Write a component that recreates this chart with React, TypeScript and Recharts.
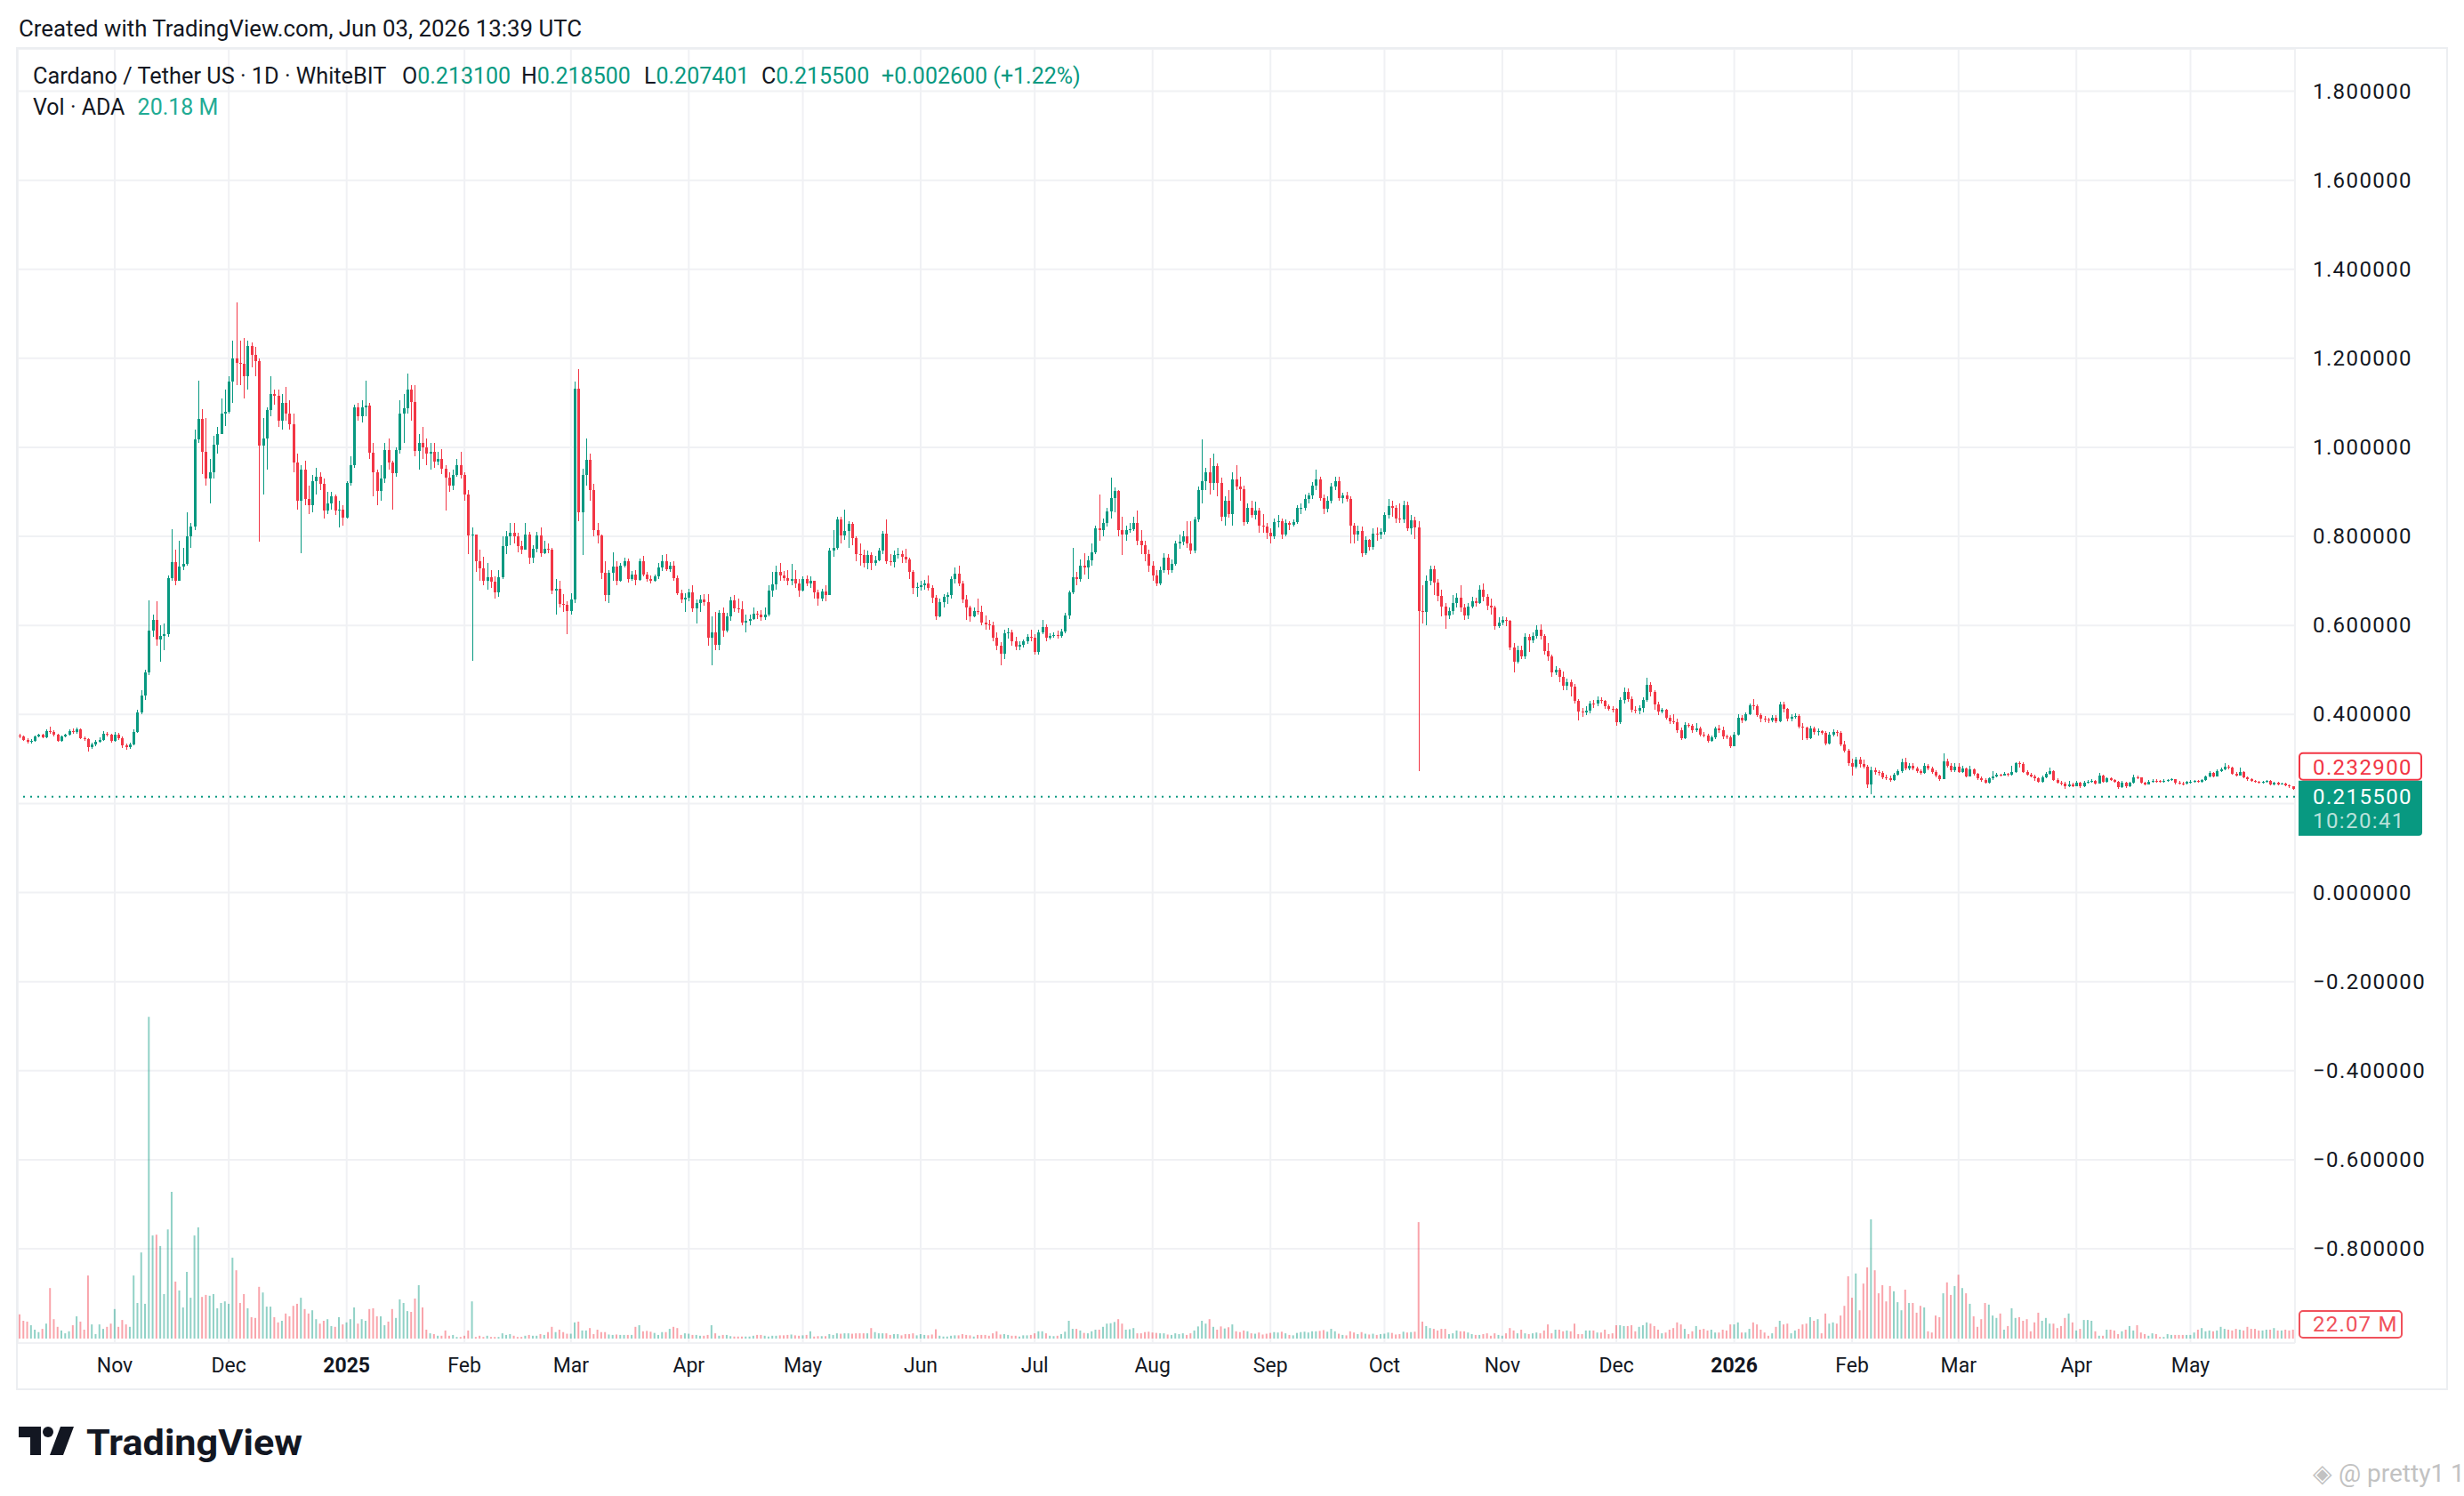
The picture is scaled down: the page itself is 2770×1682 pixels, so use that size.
import React from "react";
import {
  ComposedChart,
  Bar,
  XAxis,
  YAxis,
  CartesianGrid,
  ReferenceLine,
  Cell,
} from "recharts";

// each row: close, high, low, volume (millions ADA) - one row per day
type Row = [number, number, number, number];

const oct24: Row[] = [
  [0.350,0.356,0.346,60],[0.343,0.352,0.340,44],[0.339,0.346,0.335,42],[0.340,0.344,0.334,33],[0.350,0.353,0.338,22],
  [0.354,0.357,0.348,16],[0.348,0.356,0.346,24],[0.362,0.366,0.346,37],[0.361,0.372,0.356,125],[0.354,0.364,0.351,48],
  [0.341,0.356,0.338,29],[0.350,0.352,0.339,20],[0.354,0.356,0.348,13],[0.362,0.366,0.352,18],[0.360,0.368,0.356,33],
  [0.366,0.370,0.357,55],[0.347,0.368,0.344,42],[0.345,0.350,0.340,22],[0.326,0.347,0.316,156],[0.332,0.336,0.322,35],
  [0.339,0.342,0.329,11],[0.343,0.348,0.336,35],[0.357,0.362,0.341,24],[0.354,0.360,0.350,29],[0.340,0.357,0.336,37],
];
const nov24: Row[] = [
  [0.355,0.360,0.338,73],[0.347,0.358,0.343,29],[0.330,0.350,0.325,46],[0.326,0.334,0.320,35],[0.333,0.337,0.322,29],
  [0.360,0.366,0.330,156],[0.405,0.410,0.358,88],[0.443,0.455,0.400,213],[0.495,0.500,0.432,86],[0.589,0.657,0.488,796],
  [0.612,0.625,0.575,255],[0.568,0.655,0.555,257],[0.577,0.600,0.519,229],[0.580,0.605,0.545,110],[0.706,0.712,0.575,270],
  [0.742,0.817,0.700,363],[0.700,0.770,0.690,141],[0.732,0.790,0.700,119],[0.738,0.775,0.725,77],[0.800,0.855,0.735,165],
  [0.822,0.830,0.775,101],[1.018,1.040,0.815,255],[1.064,1.150,1.010,275],[0.990,1.085,0.940,103],[0.930,1.065,0.915,108],
  [0.945,0.975,0.875,106],[1.005,1.025,0.930,110],[1.030,1.045,0.985,75],[1.076,1.110,1.030,88],[1.080,1.130,1.048,92],
];
const dec24: Row[] = [
  [1.148,1.160,1.075,86],[1.200,1.240,1.100,200],[1.190,1.325,1.140,169],[1.188,1.240,1.140,88],[1.159,1.245,1.110,110],
  [1.228,1.240,1.130,75],[1.208,1.235,1.180,53],[1.193,1.225,1.160,51],[1.004,1.200,0.788,128],[1.020,1.065,0.895,114],
  [1.084,1.090,0.950,79],[1.120,1.160,1.070,79],[1.115,1.130,1.095,53],[1.060,1.130,1.045,40],[1.100,1.120,1.040,44],
  [1.076,1.135,1.060,62],[1.052,1.105,1.040,55],[0.967,1.075,0.945,81],[0.880,0.985,0.860,86],[0.950,0.960,0.763,101],
  [0.884,0.970,0.870,73],[0.870,0.915,0.850,62],[0.925,0.938,0.855,70],[0.935,0.955,0.895,48],[0.918,0.945,0.905,37],
  [0.858,0.930,0.840,44],[0.875,0.900,0.850,48],[0.890,0.900,0.860,31],[0.858,0.895,0.848,29],[0.860,0.880,0.820,53],
  [0.842,0.870,0.825,35],
];
const jan25: Row[] = [
  [0.920,0.925,0.840,40],[0.960,0.980,0.915,48],[1.090,1.095,0.955,77],[1.070,1.100,1.060,37],[1.090,1.105,1.055,48],
  [1.093,1.150,1.070,44],[0.988,1.100,0.975,73],[0.944,1.010,0.890,75],[0.903,0.950,0.870,55],[0.930,0.960,0.880,55],
  [0.994,1.010,0.920,33],[0.966,1.020,0.950,42],[0.942,0.970,0.860,73],[0.994,1.000,0.935,51],[1.075,1.105,0.985,97],
  [1.087,1.120,1.010,88],[1.130,1.165,1.075,68],[1.102,1.140,1.060,66],[0.992,1.140,0.980,99],[1.009,1.030,0.950,132],
  [1.000,1.045,0.975,77],[0.985,1.020,0.960,22],[0.990,1.010,0.950,13],[0.968,1.010,0.955,11],[0.975,0.990,0.960,7],
  [0.952,0.995,0.940,7],[0.932,0.960,0.859,20],[0.915,0.945,0.900,7],[0.939,0.950,0.905,9],[0.960,0.975,0.935,4],
  [0.939,0.990,0.930,4],
];
const feb25: Row[] = [
  [0.895,0.945,0.880,7],[0.802,0.905,0.760,20],[0.804,0.820,0.520,92],[0.744,0.805,0.720,4],[0.729,0.770,0.700,7],
  [0.700,0.755,0.690,4],[0.709,0.740,0.680,7],[0.699,0.725,0.685,4],[0.675,0.710,0.660,4],[0.709,0.725,0.665,4],
  [0.779,0.800,0.705,13],[0.800,0.812,0.760,9],[0.809,0.830,0.780,11],[0.800,0.830,0.785,7],[0.779,0.808,0.765,4],
  [0.771,0.790,0.760,4],[0.805,0.830,0.770,7],[0.752,0.810,0.738,9],[0.773,0.780,0.740,7],[0.803,0.810,0.765,7],
  [0.762,0.820,0.755,11],[0.772,0.790,0.760,9],[0.771,0.785,0.762,16],[0.679,0.775,0.670,29],[0.682,0.705,0.625,16],
  [0.649,0.700,0.640,22],[0.647,0.670,0.630,16],[0.632,0.655,0.580,12],
];
const mar25: Row[] = [
  [0.659,0.672,0.625,12],[1.132,1.147,0.650,40],[0.855,1.175,0.835,42],[0.939,0.953,0.759,20],[0.973,1.020,0.915,20],
  [0.904,0.985,0.880,26],[0.815,0.918,0.800,11],[0.802,0.830,0.785,22],[0.719,0.805,0.705,16],[0.669,0.745,0.655,16],
  [0.719,0.725,0.650,10],[0.733,0.765,0.700,9],[0.700,0.745,0.690,10],[0.735,0.740,0.698,9],[0.745,0.752,0.730,9],
  [0.704,0.750,0.697,9],[0.715,0.722,0.700,9],[0.702,0.725,0.690,29],[0.744,0.750,0.700,33],[0.715,0.757,0.710,18],
  [0.704,0.720,0.698,19],[0.700,0.712,0.695,17],[0.711,0.715,0.698,14],[0.731,0.740,0.705,9],[0.744,0.758,0.722,16],
  [0.727,0.760,0.722,16],[0.735,0.742,0.720,24],[0.707,0.745,0.700,29],[0.673,0.712,0.668,26],[0.659,0.680,0.650,9],
  [0.662,0.672,0.630,13],
];
const apr25: Row[] = [
  [0.675,0.682,0.655,12],[0.639,0.690,0.630,9],[0.650,0.658,0.605,9],[0.659,0.668,0.630,7],[0.652,0.670,0.645,7],
  [0.573,0.670,0.555,9],[0.585,0.620,0.511,33],[0.557,0.630,0.545,13],[0.629,0.635,0.545,7],[0.589,0.640,0.575,9],
  [0.620,0.628,0.585,9],[0.657,0.665,0.610,6],[0.639,0.668,0.630,5],[0.637,0.660,0.628,5],[0.607,0.655,0.600,5],
  [0.611,0.625,0.585,5],[0.614,0.625,0.600,5],[0.627,0.640,0.612,7],[0.625,0.632,0.615,9],[0.619,0.635,0.610,9],
  [0.625,0.640,0.612,7],[0.679,0.690,0.620,5],[0.692,0.720,0.665,7],[0.720,0.735,0.680,7],[0.712,0.740,0.700,8],
  [0.707,0.722,0.700,8],[0.700,0.725,0.690,9],[0.705,0.738,0.690,10],[0.695,0.725,0.685,8],[0.679,0.705,0.665,7],
];
const may25: Row[] = [
  [0.704,0.710,0.676,8],[0.695,0.712,0.688,9],[0.700,0.710,0.684,18],[0.674,0.700,0.660,5],[0.660,0.680,0.645,6],
  [0.677,0.682,0.655,6],[0.669,0.690,0.655,6],[0.769,0.775,0.668,11],[0.775,0.815,0.755,9],[0.839,0.845,0.770,13],
  [0.802,0.845,0.785,12],[0.813,0.860,0.792,13],[0.829,0.835,0.775,13],[0.797,0.832,0.780,12],[0.760,0.800,0.745,13],
  [0.758,0.785,0.735,13],[0.740,0.770,0.730,13],[0.759,0.768,0.727,13],[0.740,0.765,0.725,26],[0.747,0.757,0.735,16],
  [0.769,0.775,0.745,13],[0.807,0.812,0.760,13],[0.745,0.839,0.738,13],[0.742,0.760,0.735,9],[0.759,0.768,0.730,11],
  [0.760,0.775,0.750,11],[0.755,0.768,0.740,8],[0.749,0.772,0.740,11],[0.720,0.752,0.705,11],[0.685,0.725,0.670,13],
  [0.687,0.696,0.665,8],
];
const jun25: Row[] = [
  [0.690,0.700,0.678,11],[0.694,0.702,0.680,9],[0.685,0.712,0.678,8],[0.662,0.690,0.650,10],[0.620,0.668,0.612,23],
  [0.653,0.660,0.618,7],[0.664,0.670,0.640,5],[0.669,0.675,0.648,5],[0.705,0.710,0.660,7],[0.717,0.730,0.695,8],
  [0.695,0.735,0.688,8],[0.659,0.700,0.650,11],[0.640,0.668,0.612,9],[0.620,0.645,0.608,8],[0.632,0.640,0.618,5],
  [0.631,0.660,0.625,9],[0.607,0.645,0.600,9],[0.602,0.622,0.590,9],[0.600,0.612,0.590,7],[0.573,0.608,0.565,13],
  [0.555,0.585,0.545,18],[0.537,0.562,0.511,10],[0.582,0.590,0.525,11],[0.585,0.595,0.570,9],[0.564,0.590,0.555,7],
  [0.552,0.575,0.545,7],[0.557,0.565,0.545,5],[0.564,0.568,0.550,8],[0.575,0.580,0.558,8],[0.572,0.590,0.565,9],
];
const jul25: Row[] = [
  [0.540,0.580,0.535,13],[0.584,0.590,0.535,18],[0.597,0.612,0.580,18],[0.573,0.602,0.565,13],[0.577,0.582,0.568,7],
  [0.579,0.585,0.572,6],[0.576,0.588,0.570,7],[0.587,0.592,0.572,11],[0.622,0.628,0.583,17],[0.675,0.678,0.615,44],
  [0.709,0.775,0.670,24],[0.705,0.720,0.690,24],[0.735,0.748,0.698,20],[0.730,0.762,0.715,14],[0.747,0.757,0.705,13],
  [0.764,0.785,0.735,18],[0.819,0.825,0.760,22],[0.815,0.895,0.790,22],[0.831,0.840,0.800,29],[0.857,0.865,0.822,37],
  [0.887,0.933,0.840,38],[0.902,0.910,0.855,41],[0.815,0.905,0.800,48],[0.805,0.845,0.758,37],[0.815,0.825,0.790,22],
  [0.817,0.830,0.808,23],[0.831,0.845,0.812,26],[0.791,0.858,0.780,13],[0.780,0.815,0.760,13],[0.760,0.790,0.745,16],
  [0.735,0.770,0.720,17],
];
const aug25: Row[] = [
  [0.712,0.745,0.700,15],[0.695,0.725,0.688,14],[0.725,0.732,0.690,13],[0.753,0.762,0.718,13],[0.725,0.760,0.715,10],
  [0.739,0.748,0.718,9],[0.785,0.790,0.735,13],[0.789,0.805,0.772,11],[0.800,0.812,0.780,13],[0.785,0.835,0.775,9],
  [0.769,0.835,0.760,13],[0.839,0.845,0.762,20],[0.904,0.912,0.832,30],[0.925,1.017,0.875,44],[0.944,0.955,0.905,37],
  [0.920,0.977,0.895,48],[0.959,0.985,0.905,29],[0.920,0.965,0.890,22],[0.844,0.933,0.835,30],[0.880,0.890,0.825,25],
  [0.851,0.905,0.843,28],[0.929,0.945,0.825,35],[0.913,0.960,0.905,18],[0.907,0.935,0.880,16],[0.832,0.915,0.825,20],
  [0.865,0.875,0.828,18],[0.849,0.880,0.842,13],[0.859,0.878,0.838,12],[0.825,0.865,0.808,15],[0.822,0.850,0.808,10],
  [0.809,0.830,0.795,12],
];
const sep25: Row[] = [
  [0.800,0.818,0.785,14],[0.833,0.840,0.795,16],[0.835,0.848,0.820,15],[0.805,0.840,0.795,17],[0.831,0.838,0.800,13],
  [0.827,0.835,0.815,9],[0.833,0.838,0.822,8],[0.864,0.870,0.828,14],[0.865,0.875,0.850,16],[0.884,0.895,0.858,17],
  [0.892,0.898,0.875,15],[0.915,0.922,0.885,18],[0.929,0.950,0.905,18],[0.887,0.935,0.880,19],[0.862,0.895,0.850,21],
  [0.880,0.890,0.855,17],[0.913,0.920,0.875,24],[0.924,0.935,0.905,18],[0.887,0.935,0.880,12],[0.892,0.898,0.875,9],
  [0.884,0.900,0.878,8],[0.825,0.890,0.785,18],[0.805,0.830,0.785,15],[0.812,0.825,0.790,11],[0.762,0.822,0.755,16],
  [0.792,0.800,0.758,12],[0.777,0.795,0.768,10],[0.807,0.818,0.770,12],[0.805,0.820,0.790,9],[0.810,0.818,0.795,11],
];
const oct25: Row[] = [
  [0.849,0.855,0.805,12],[0.869,0.885,0.840,15],[0.865,0.880,0.845,14],[0.840,0.870,0.830,10],[0.838,0.875,0.830,11],
  [0.871,0.880,0.830,17],[0.819,0.878,0.812,15],[0.837,0.848,0.805,16],[0.820,0.845,0.795,17],[0.633,0.835,0.272,288],
  [0.630,0.690,0.605,42],[0.700,0.712,0.600,31],[0.727,0.735,0.690,26],[0.697,0.735,0.668,24],[0.667,0.705,0.655,20],
  [0.642,0.680,0.620,24],[0.622,0.650,0.592,24],[0.633,0.640,0.615,11],[0.651,0.668,0.625,13],[0.662,0.672,0.640,20],
  [0.640,0.690,0.630,18],[0.622,0.648,0.612,18],[0.642,0.650,0.615,15],[0.655,0.665,0.638,11],[0.650,0.662,0.642,9],
  [0.680,0.690,0.648,9],[0.664,0.695,0.655,11],[0.645,0.670,0.635,13],[0.640,0.660,0.625,7],[0.599,0.645,0.590,13],
  [0.607,0.618,0.595,9],
];
const nov25: Row[] = [
  [0.613,0.620,0.600,7],[0.611,0.618,0.598,13],[0.551,0.613,0.545,26],[0.519,0.560,0.495,20],[0.544,0.555,0.515,13],
  [0.531,0.555,0.525,22],[0.575,0.582,0.525,13],[0.567,0.580,0.540,11],[0.577,0.585,0.560,13],[0.591,0.600,0.570,15],
  [0.577,0.602,0.568,13],[0.542,0.580,0.535,20],[0.531,0.560,0.520,35],[0.495,0.535,0.485,13],[0.500,0.508,0.488,22],
  [0.484,0.505,0.472,22],[0.464,0.497,0.455,18],[0.473,0.480,0.455,20],[0.462,0.478,0.440,18],[0.431,0.468,0.425,37],
  [0.407,0.435,0.387,11],[0.405,0.415,0.395,11],[0.409,0.418,0.398,20],[0.425,0.430,0.402,20],[0.424,0.433,0.415,20],
  [0.433,0.440,0.418,15],[0.430,0.438,0.425,15],[0.419,0.432,0.412,22],[0.413,0.422,0.408,11],[0.412,0.418,0.405,13],
];
const dec25: Row[] = [
  [0.382,0.415,0.375,33],[0.432,0.438,0.378,33],[0.451,0.460,0.425,31],[0.435,0.458,0.428,31],[0.411,0.440,0.405,33],
  [0.409,0.418,0.402,18],[0.415,0.420,0.400,29],[0.432,0.438,0.405,33],[0.467,0.483,0.428,40],[0.451,0.472,0.440,37],
  [0.422,0.455,0.410,31],[0.407,0.428,0.398,22],[0.411,0.415,0.403,13],[0.393,0.412,0.388,15],[0.385,0.398,0.378,22],
  [0.383,0.400,0.378,26],[0.364,0.390,0.358,40],[0.347,0.370,0.343,35],[0.377,0.382,0.345,24],[0.375,0.380,0.370,11],
  [0.364,0.378,0.358,18],[0.369,0.380,0.360,31],[0.355,0.372,0.350,22],[0.353,0.360,0.348,24],[0.340,0.356,0.336,20],
  [0.349,0.352,0.338,22],[0.369,0.372,0.345,15],[0.365,0.377,0.358,15],[0.351,0.372,0.345,22],[0.349,0.355,0.345,20],
  [0.329,0.352,0.325,35],
];
const jan26: Row[] = [
  [0.355,0.360,0.328,35],[0.393,0.400,0.352,40],[0.387,0.398,0.380,15],[0.400,0.405,0.385,15],[0.420,0.425,0.398,24],
  [0.419,0.435,0.410,40],[0.399,0.422,0.395,35],[0.390,0.402,0.383,22],[0.388,0.396,0.382,15],[0.386,0.392,0.380,7],
  [0.393,0.398,0.383,13],[0.385,0.398,0.380,29],[0.422,0.428,0.383,44],[0.412,0.428,0.405,35],[0.391,0.415,0.385,37],
  [0.395,0.400,0.385,13],[0.397,0.402,0.390,20],[0.373,0.400,0.368,24],[0.370,0.380,0.342,35],[0.347,0.372,0.342,37],
  [0.369,0.375,0.345,53],[0.360,0.372,0.355,44],[0.362,0.368,0.352,48],[0.359,0.365,0.354,13],[0.335,0.362,0.330,62],
  [0.355,0.360,0.332,37],[0.360,0.366,0.350,40],[0.359,0.365,0.350,37],[0.333,0.362,0.328,57],[0.319,0.340,0.315,81],
  [0.291,0.322,0.285,154],
];
const feb26: Row[] = [
  [0.282,0.300,0.262,101],[0.299,0.305,0.278,161],[0.289,0.305,0.280,70],[0.282,0.298,0.278,136],[0.242,0.287,0.235,176],
  [0.275,0.282,0.220,295],[0.271,0.280,0.265,169],[0.269,0.275,0.262,112],[0.259,0.272,0.255,132],[0.257,0.265,0.252,92],
  [0.253,0.262,0.248,130],[0.265,0.268,0.250,117],[0.272,0.276,0.262,90],[0.293,0.300,0.268,70],[0.279,0.302,0.275,121],
  [0.285,0.290,0.274,88],[0.279,0.290,0.275,88],[0.272,0.282,0.268,64],[0.269,0.276,0.265,81],[0.284,0.290,0.266,77],
  [0.279,0.288,0.275,18],[0.271,0.283,0.266,15],[0.262,0.275,0.258,57],[0.255,0.265,0.250,53],[0.295,0.313,0.254,112],
  [0.285,0.300,0.280,139],[0.274,0.290,0.270,108],[0.283,0.290,0.270,130],
];
const mar26: Row[] = [
  [0.271,0.290,0.268,158],[0.278,0.284,0.268,125],[0.261,0.280,0.258,112],[0.276,0.284,0.260,86],[0.266,0.278,0.262,55],
  [0.256,0.268,0.252,29],[0.253,0.260,0.249,48],[0.247,0.256,0.244,88],[0.256,0.258,0.245,84],[0.261,0.272,0.252,57],
  [0.265,0.268,0.258,51],[0.263,0.267,0.260,62],[0.266,0.270,0.262,22],[0.265,0.268,0.260,31],[0.271,0.285,0.262,75],
  [0.291,0.293,0.268,51],[0.289,0.295,0.280,53],[0.271,0.292,0.268,44],[0.265,0.274,0.262,48],[0.261,0.268,0.258,18],
  [0.256,0.264,0.250,40],[0.249,0.258,0.246,64],[0.259,0.262,0.246,44],[0.267,0.270,0.256,51],[0.273,0.280,0.265,37],
  [0.253,0.274,0.250,37],[0.247,0.256,0.244,26],[0.245,0.250,0.240,31],[0.238,0.248,0.232,51],[0.243,0.250,0.237,62],
  [0.239,0.247,0.236,40],
];
const apr26: Row[] = [
  [0.247,0.250,0.238,20],[0.238,0.249,0.235,24],[0.247,0.250,0.236,46],[0.249,0.253,0.244,46],[0.251,0.254,0.246,44],
  [0.245,0.253,0.242,18],[0.263,0.268,0.244,7],[0.249,0.264,0.246,7],[0.256,0.259,0.247,22],[0.253,0.258,0.250,22],
  [0.249,0.255,0.246,20],[0.236,0.250,0.233,11],[0.247,0.250,0.235,18],[0.238,0.248,0.235,22],[0.246,0.249,0.236,31],
  [0.259,0.265,0.244,20],[0.258,0.262,0.254,33],[0.247,0.259,0.244,15],[0.243,0.249,0.240,11],[0.249,0.252,0.242,7],
  [0.251,0.254,0.246,13],[0.250,0.254,0.247,11],[0.249,0.253,0.246,4],[0.251,0.254,0.247,4],[0.253,0.255,0.249,11],
  [0.254,0.256,0.250,9],[0.246,0.255,0.243,9],[0.245,0.250,0.242,9],[0.244,0.248,0.241,9],[0.248,0.250,0.243,9],
];
const may26: Row[] = [
  [0.249,0.252,0.245,9],[0.251,0.253,0.247,15],[0.249,0.253,0.246,22],[0.253,0.255,0.247,26],[0.261,0.263,0.251,18],
  [0.269,0.272,0.259,20],[0.261,0.270,0.258,18],[0.273,0.276,0.260,20],[0.276,0.280,0.270,29],[0.283,0.290,0.274,24],
  [0.281,0.287,0.277,22],[0.267,0.283,0.265,20],[0.263,0.270,0.260,24],[0.271,0.281,0.262,22],[0.259,0.273,0.256,20],
  [0.254,0.260,0.251,29],[0.251,0.256,0.248,24],[0.249,0.253,0.246,24],[0.247,0.251,0.244,20],[0.249,0.251,0.245,20],
  [0.251,0.253,0.247,22],[0.243,0.252,0.241,22],[0.247,0.249,0.241,26],[0.243,0.248,0.241,20],[0.245,0.247,0.242,20],
  [0.241,0.246,0.239,22],[0.238,0.242,0.235,20],[0.2329,0.239,0.230,22.07],
];

const months = [
  { y: 2024, m: 10, from: 7, rows: oct24 },
  { y: 2024, m: 11, from: 1, rows: nov24 },
  { y: 2024, m: 12, from: 1, rows: dec24 },
  { y: 2025, m: 1, from: 1, rows: jan25 },
  { y: 2025, m: 2, from: 1, rows: feb25 },
  { y: 2025, m: 3, from: 1, rows: mar25 },
  { y: 2025, m: 4, from: 1, rows: apr25 },
  { y: 2025, m: 5, from: 1, rows: may25 },
  { y: 2025, m: 6, from: 1, rows: jun25 },
  { y: 2025, m: 7, from: 1, rows: jul25 },
  { y: 2025, m: 8, from: 1, rows: aug25 },
  { y: 2025, m: 9, from: 1, rows: sep25 },
  { y: 2025, m: 10, from: 1, rows: oct25 },
  { y: 2025, m: 11, from: 1, rows: nov25 },
  { y: 2025, m: 12, from: 1, rows: dec25 },
  { y: 2026, m: 1, from: 1, rows: jan26 },
  { y: 2026, m: 2, from: 1, rows: feb26 },
  { y: 2026, m: 3, from: 1, rows: mar26 },
  { y: 2026, m: 4, from: 1, rows: apr26 },
  { y: 2026, m: 5, from: 1, rows: may26 },
];

const firstOpen = 0.352;
const priceTicks = [-0.8, -0.6, -0.4, -0.2, 0, 0.2, 0.4, 0.6, 0.8, 1.0, 1.2, 1.4, 1.6, 1.8];
const monthNames = ["Jan", "Feb", "Mar", "Apr", "May", "Jun", "Jul", "Aug", "Sep", "Oct", "Nov", "Dec"];

const lastPrice = 0.2155;
const countdown = "10:20:41";

const UP = "#089981";
const DOWN = "#f23645";
const FONT = "Roboto, 'Noto Sans', sans-serif";

const pad = (n: number) => String(n).padStart(2, "0");

const data: any[] = [];
let prevClose = firstOpen;
months.forEach(({ y, m, from, rows }) => {
  rows.forEach(([c, h, l, v], i) => {
    const o = prevClose;
    const high = Math.max(h, o, c);
    const low = Math.min(l, o, c);
    data.push({
      date: `${y}-${pad(m)}-${pad(from + i)}`,
      open: o,
      close: c,
      high,
      low,
      range: [low, high],
      vol: v,
      up: c >= o,
    });
    prevClose = c;
  });
});

const monthTicks = months.filter((mm) => mm.from === 1).map((mm) => `${mm.y}-${pad(mm.m)}-01`);
const last = data[data.length - 1];

const Candle = (props: any) => {
  const { x, y, width, height, payload } = props;
  if (!payload || x == null) return null;
  const top = Math.min(y, y + height);
  const h = Math.abs(height);
  const span = payload.high - payload.low;
  const k = span > 0 ? h / span : 0;
  const bt = top + (payload.high - Math.max(payload.open, payload.close)) * k;
  const bb = top + (payload.high - Math.min(payload.open, payload.close)) * k;
  const color = payload.up ? UP : DOWN;
  const cx = x + width / 2;
  return (
    <g shapeRendering="crispEdges">
      <rect x={cx - 0.5} y={top} width={1} height={Math.max(h, 1)} fill={color} />
      <rect x={x} y={bt} width={width} height={Math.max(bb - bt, 1)} fill={color} />
    </g>
  );
};

const MonthTick = ({ x, y, payload }: any) => {
  const [yy, mm] = String(payload.value).split("-").map(Number);
  const isYear = mm === 1;
  return (
    <text
      x={x}
      y={y + 25}
      textAnchor="middle"
      dominantBaseline="central"
      fontSize={23}
      fontWeight={isYear ? 700 : 400}
      fill="#131722"
      fontFamily={FONT}
    >
      {isYear ? yy : monthNames[mm - 1]}
    </text>
  );
};

const PriceTick = ({ x, y, payload }: any) => {
  const v = payload.value;
  if (Math.abs(v - 0.2) < 1e-6) return null; // hidden behind the price tags
  const s = (v < -1e-9 ? "\u2212" : "") + Math.abs(v).toFixed(6);
  return (
    <text x={x + 20} y={y} dominantBaseline="central" fontSize={24} letterSpacing={1.4} fill="#131722" fontFamily={FONT}>
      {s}
    </text>
  );
};

const PriceTags = ({ viewBox }: any) => {
  if (!viewBox) return null;
  const bx = viewBox.x + viewBox.width + 4;
  const ly = viewBox.y;
  const w = 139;
  return (
    <g fontFamily={FONT} fontSize={24} letterSpacing={1.4}>
      <rect x={bx + 1} y={ly - 49} width={w - 2} height={30} rx={4} fill="#fff" stroke={DOWN} strokeWidth={2} />
      <text x={bx + 16} y={ly - 33} dominantBaseline="central" fill={DOWN}>
        {last.close.toFixed(6)}
      </text>
      <path
        d={`M${bx} ${ly - 18} H${bx + w} V${ly + 40} Q${bx + w} ${ly + 44} ${bx + w - 4} ${ly + 44} H${bx} Z`}
        fill={UP}
      />
      <text x={bx + 16} y={ly} dominantBaseline="central" fill="#fff">
        {lastPrice.toFixed(6)}
      </text>
      <text x={bx + 16} y={ly + 27} dominantBaseline="central" fill="rgba(255,255,255,0.72)">
        {countdown}
      </text>
    </g>
  );
};

const VolTag = ({ viewBox }: any) => {
  if (!viewBox) return null;
  const bx = viewBox.x + viewBox.width + 4;
  const ly = viewBox.y;
  return (
    <g fontFamily={FONT} fontSize={24} letterSpacing={1.2}>
      <rect x={bx + 1} y={ly - 31} width={115} height={30} rx={4} fill="#fff" stroke="#f0525c" strokeWidth={2} />
      <text x={bx + 16} y={ly - 16} dominantBaseline="central" fill="#f0525c">
        {last.vol.toFixed(2)} M
      </text>
    </g>
  );
};

const green = { color: UP };

export default function App() {
  return (
    <div
      style={{
        position: "absolute",
        left: 0,
        top: 0,
        width: 2770,
        height: 1682,
        overflow: "hidden",
        background: "#fff",
        fontFamily: FONT,
        color: "#131722",
      }}
    >
      <div style={{ position: "absolute", left: 21, top: 17, fontSize: 25.8, lineHeight: "30px", whiteSpace: "nowrap" }}>
        Created with TradingView.com, Jun 03, 2026 13:39 UTC
      </div>

      <div
        style={{
          position: "absolute",
          left: 18,
          top: 53,
          width: 2734,
          height: 1510,
          border: "2px solid #eceef1",
          boxSizing: "border-box",
        }}
      />

      <div style={{ position: "absolute", left: 20, top: 55 }}>
        <ComposedChart width={2730} height={1506} data={data} margin={{ top: 0, right: 0, bottom: 0, left: 0 }}>
          <CartesianGrid xAxisId="p" yAxisId="p" stroke="#f0f1f4" strokeWidth={2} />
          <XAxis
            xAxisId="p"
            dataKey="date"
            ticks={monthTicks}
            interval={0}
            height={51}
            tickSize={0}
            tickMargin={0}
            axisLine={false}
            tickLine={false}
            tick={<MonthTick />}
          />
          <XAxis xAxisId="v" dataKey="date" hide />
          <YAxis
            yAxisId="p"
            orientation="right"
            type="number"
            width={170}
            domain={[-1.0116, 1.8949]}
            ticks={priceTicks}
            allowDataOverflow
            tickSize={0}
            tickMargin={0}
            axisLine={false}
            tickLine={false}
            tick={<PriceTick />}
          />
          <YAxis yAxisId="v" type="number" hide domain={[-11, 3190]} allowDataOverflow />
          <Bar xAxisId="v" yAxisId="v" dataKey="vol" barSize={2} isAnimationActive={false}>
            {data.map((d) => (
              <Cell key={d.date} fill={d.up ? "rgba(8,153,129,0.45)" : "rgba(242,54,69,0.45)"} />
            ))}
          </Bar>
          <Bar xAxisId="p" yAxisId="p" dataKey="range" barSize={3} shape={<Candle />} isAnimationActive={false} />
          <ReferenceLine
            xAxisId="p"
            yAxisId="p"
            y={lastPrice}
            stroke={UP}
            strokeWidth={2}
            strokeDasharray="2 6"
            label={<PriceTags />}
          />
          <ReferenceLine xAxisId="v" yAxisId="v" y={0} stroke="transparent" label={<VolTag />} />
        </ComposedChart>
      </div>

      <div style={{ position: "absolute", left: 37, top: 71, fontSize: 25.3, lineHeight: "30px", whiteSpace: "nowrap" }}>
        Cardano / Tether US · 1D · WhiteBIT
      </div>
      {[
        ["O", "0.213100", 452],
        ["H", "0.218500", 586],
        ["L", "0.207401", 724],
        ["C", "0.215500", 856],
      ].map(([k, v, x]) => (
        <div
          key={k as string}
          style={{ position: "absolute", left: x as number, top: 71, fontSize: 25, lineHeight: "30px", whiteSpace: "nowrap" }}
        >
          {k}
          <span style={green}>{v}</span>
        </div>
      ))}
      <div style={{ position: "absolute", left: 991, top: 71, fontSize: 25, lineHeight: "30px", whiteSpace: "nowrap", ...green }}>
        +0.002600 (+1.22%)
      </div>
      <div style={{ position: "absolute", left: 37, top: 106, fontSize: 25, lineHeight: "30px", whiteSpace: "nowrap" }}>
        Vol · ADA <span style={{ color: "#22ab94", marginLeft: 8 }}>20.18 M</span>
      </div>

      <svg style={{ position: "absolute", left: 21, top: 1598 }} width={340} height={52}>
        <path d="M0 6 H25 V38 H13 V18 H0 Z" fill="#131722" />
        <circle cx={33} cy={12} r={6} fill="#131722" />
        <path d="M47 6 H62 L50 38 H35 Z" fill="#131722" />
        <text
          x={76}
          y={38}
          fontSize={41}
          fontWeight={700}
          fill="#131722"
          fontFamily={FONT}
          textLength={243}
          lengthAdjust="spacingAndGlyphs"
        >
          TradingView
        </text>
      </svg>

      <div
        style={{
          position: "absolute",
          left: 2600,
          top: 1640,
          fontSize: 28,
          lineHeight: "34px",
          color: "#c2c2c2",
          whiteSpace: "nowrap",
        }}
      >
        ◈ @ pretty1 1
      </div>
    </div>
  );
}
